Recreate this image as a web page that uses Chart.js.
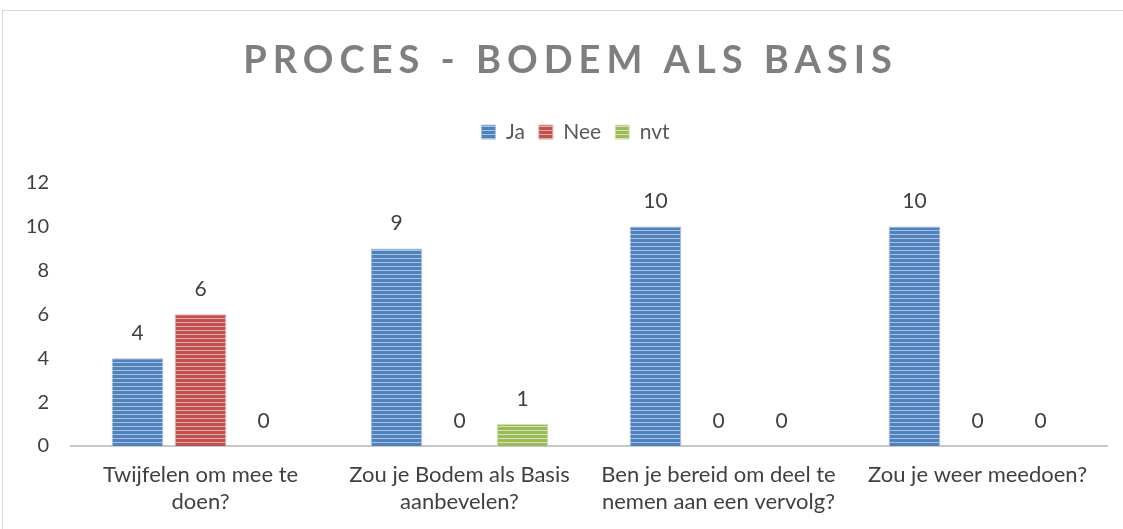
<!DOCTYPE html>
<html><head><meta charset="utf-8">
<script src="https://cdn.jsdelivr.net/npm/chart.js@4"></script>
<style>
html,body{margin:0;padding:0;background:#fff;overflow:hidden}
#frame{position:absolute;left:2px;top:10px;width:1140px;height:540px;border:1px solid #d9d9d9;box-sizing:border-box}
#wrap{position:absolute;left:0;top:0;width:1123px;height:529px}
</style></head>
<body>
<div id="frame"></div>
<div id="wrap"><canvas id="c"></canvas></div>
<script>
const chartTitle = "PROCES - BODEM ALS BASIS";
const categories = [
  ["Twijfelen om mee te", "doen?"],
  ["Zou je Bodem als Basis", "aanbevelen?"],
  ["Ben je bereid om deel te", "nemen aan een vervolg?"],
  ["Zou je weer meedoen?"]
];
const seriesNames = ["Ja", "Nee", "nvt"];
const jaValues = [4, 9, 10, 10];
const neeValues = [6, 0, 0, 0];
const nvtValues = [0, 1, 0, 0];
const yTicks = [0, 2, 4, 6, 8, 10, 12];

const FONT = "Lato, 'Open Sans', sans-serif";

function stripes(base, light) {
  const c = document.createElement('canvas');
  c.width = 4; c.height = 4;
  const x = c.getContext('2d');
  x.fillStyle = base; x.fillRect(0, 0, 4, 4);
  x.fillStyle = light; x.fillRect(0, 2, 4, 1);
  return x.createPattern(c, 'repeat');
}
const ctx = document.getElementById('c').getContext('2d');
const fills = [
  stripes('#4f81bd', '#a9c1e0'),
  stripes('#c0504d', '#e3aaa8'),
  stripes('#9bbb59', '#d3e2b4')
];
const borders = ['#a9c1e0', '#e3aaa8', '#d3e2b4'];
const values = [jaValues, neeValues, nvtValues];

const valueLabels = {
  id: 'valueLabels',
  afterDatasetsDraw(chart) {
    const c = chart.ctx;
    c.save();
    c.font = "21px " + FONT;
    c.fillStyle = '#404040';
    c.textAlign = 'center';
    c.textBaseline = 'middle';
    chart.data.datasets.forEach((ds, i) => {
      chart.getDatasetMeta(i).data.forEach((el, j) => {
        c.fillText(String(ds.data[j]), el.x, el.y - 25);
      });
    });
    c.restore();
  }
};
const tweaks = {
  id: 'tweaks',
  beforeLayout(chart) {
    const t = chart.titleBlock;
    if (t && !t._p) {
      const d = t.draw.bind(t);
      t.draw = function () { chart.ctx.save(); chart.ctx.letterSpacing = '6px'; chart.ctx.translate(17, 0); d(); chart.ctx.restore(); };
      t._p = true;
    }
    const lg = chart.legend;
    if (lg && !lg._p) {
      const f = lg.fit.bind(lg);
      lg.fit = function () { f(); this.height += 30; };
      const dr = lg.draw.bind(lg);
      lg.draw = function () { chart.ctx.save(); chart.ctx.translate(22, 0); dr(); chart.ctx.restore(); };
      lg._p = true;
    }
  }
};

new Chart(ctx, {
  type: 'bar',
  data: {
    labels: categories,
    datasets: seriesNames.map((n, i) => ({
      label: n,
      data: values[i],
      backgroundColor: fills[i],
      borderColor: borders[i],
      borderWidth: 1,
      categoryPercentage: 0.73,
      barPercentage: 0.82
    }))
  },
  options: {
    responsive: true,
    maintainAspectRatio: false,
    animation: false,
    layout: { padding: { left: 0, right: 16, top: 0, bottom: 0 } },
    plugins: {
      title: {
        display: true, text: chartTitle, color: '#7f7f7f',
        font: { family: FONT, size: 38, weight: 'bold', lineHeight: 1.2 },
        padding: { top: 38, bottom: 24 }
      },
      legend: {
        display: true, position: 'top',
        labels: { color: '#595959', font: { family: FONT, size: 21 }, boxWidth: 14, boxHeight: 14, padding: 14 }
      },
      tooltip: { enabled: false }
    },
    scales: {
      x: {
        grid: { display: false, drawTicks: false },
        border: { display: true, color: '#c8c8c8', width: 2 },
        ticks: { color: '#404040', font: { family: FONT, size: 22, lineHeight: 1.23 }, padding: 15, maxRotation: 0, autoSkip: false },
        afterFit(s) { s.height = 83; }
      },
      y: {
        min: 0, max: 12,
        grid: { display: false, drawTicks: false },
        border: { display: false },
        afterBuildTicks(s) { s.ticks = yTicks.map(v => ({ value: v })); },
        ticks: { color: '#404040', font: { family: FONT, size: 20 }, padding: 22 },
        afterFit(s) { s.width = 71; }
      }
    }
  },
  plugins: [valueLabels, tweaks]
});
</script>
</body></html>
